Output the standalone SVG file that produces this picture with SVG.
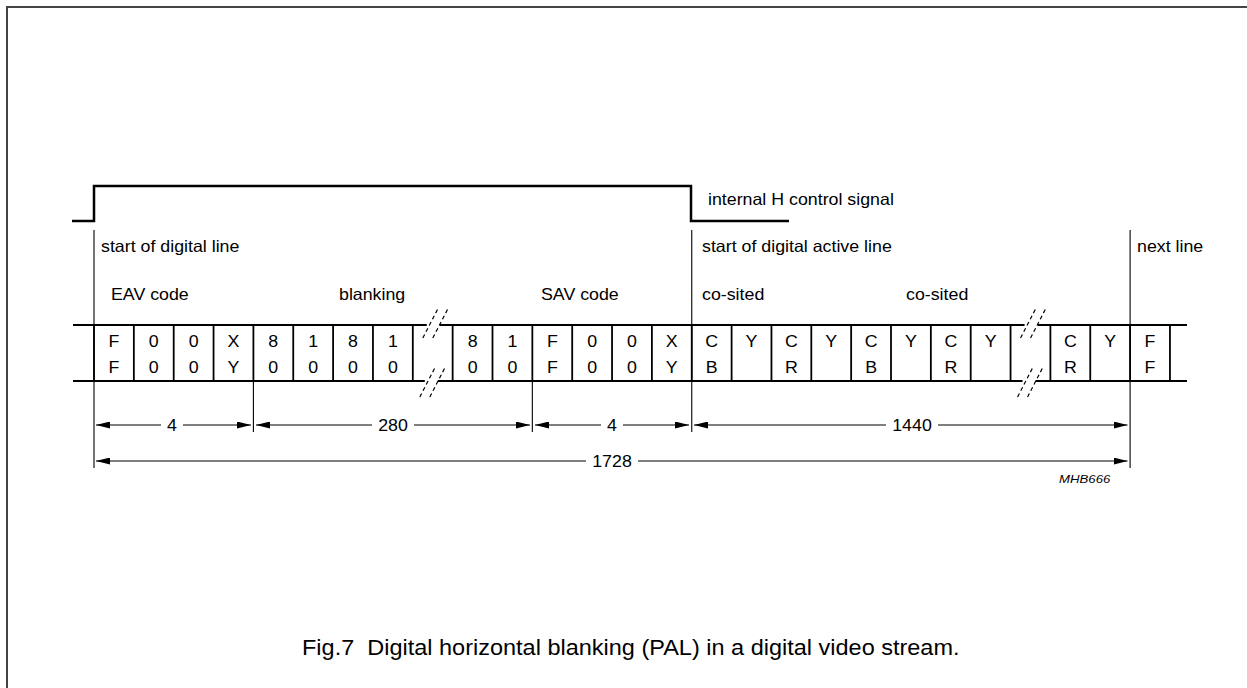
<svg xmlns="http://www.w3.org/2000/svg" width="1247" height="688" viewBox="0 0 1247 688">
<style>
text{font-family:"Liberation Sans",Arial,Helvetica,sans-serif;fill:#000}
.lbl{font-size:17.8px}
.cell{font-size:17.8px;text-anchor:middle}
.dim{font-size:17.8px;text-anchor:middle}
.cap{font-size:23.5px}
.code{font-size:13.2px;font-style:italic}
.wave{fill:none;stroke:#000;stroke-width:2.5}
.rowline{stroke:#000;stroke-width:2}
.div{stroke:#000;stroke-width:1.8}
.thin{stroke:#000;stroke-width:1.1}
.dimline{stroke:#000;stroke-width:1.1;fill:none}
.brk{stroke:#000;stroke-width:1.2;stroke-dasharray:4 3;fill:none}
.frame{fill:none;stroke:#444;stroke-width:2}
</style>
<defs>
<marker id="ah" viewBox="0 0 14 7" refX="14" refY="3.5" markerWidth="14" markerHeight="7" markerUnits="userSpaceOnUse" orient="auto-start-reverse">
<path d="M0,0 L14,3.5 L0,7 z" fill="#000"/>
</marker>
<g id="brkmark">
<rect x="14" y="321" width="13" height="8" fill="#fff"/>
<rect x="12" y="377" width="13" height="8" fill="#fff"/>
<line class="brk" x1="10" y1="338" x2="25" y2="309"/>
<line class="brk" x1="20" y1="338" x2="35" y2="309"/>
<line class="brk" x1="7" y1="397" x2="22" y2="368"/>
<line class="brk" x1="17" y1="397" x2="32" y2="368"/>
</g>
</defs>
<rect width="1247" height="688" fill="#fff"/>
<polyline class="frame" points="7,688 7,7 1247,7"/>

<g id="signal">
<polyline class="wave" points="72,221 94,221 94,186 691,186 691,221 789,221"/>
<text class="lbl" transform="translate(708 205) scale(1 .88)">internal H control signal</text>
</g>

<g id="labels">
<text class="lbl" transform="translate(101 252) scale(1 .88)">start of digital line</text>
<text class="lbl" transform="translate(702 252) scale(1 .88)">start of digital active line</text>
<text class="lbl" transform="translate(1137 252) scale(1 .88)">next line</text>
<text class="lbl" transform="translate(111 300) scale(1 .88)">EAV code</text>
<text class="lbl" transform="translate(339 300) scale(1 .88)">blanking</text>
<text class="lbl" transform="translate(541 300) scale(1 .88)">SAV code</text>
<text class="lbl" transform="translate(702 300) scale(1 .88)">co-sited</text>
<text class="lbl" transform="translate(906 300) scale(1 .88)">co-sited</text>
</g>

<g id="stream">
<line class="rowline" x1="73" y1="325" x2="1187" y2="325"/>
<line class="rowline" x1="73" y1="381" x2="1187" y2="381"/>
<g id="dividers">
<line class="div" x1="94" y1="325" x2="94" y2="381"/>
<line class="div" x1="133.85" y1="325" x2="133.85" y2="381"/>
<line class="div" x1="173.7" y1="325" x2="173.7" y2="381"/>
<line class="div" x1="213.55" y1="325" x2="213.55" y2="381"/>
<line class="div" x1="253.4" y1="325" x2="253.4" y2="381"/>
<line class="div" x1="293.25" y1="325" x2="293.25" y2="381"/>
<line class="div" x1="333.1" y1="325" x2="333.1" y2="381"/>
<line class="div" x1="372.95" y1="325" x2="372.95" y2="381"/>
<line class="div" x1="412.8" y1="325" x2="412.8" y2="381"/>
<line class="div" x1="452.65" y1="325" x2="452.65" y2="381"/>
<line class="div" x1="492.5" y1="325" x2="492.5" y2="381"/>
<line class="div" x1="532.35" y1="325" x2="532.35" y2="381"/>
<line class="div" x1="572.2" y1="325" x2="572.2" y2="381"/>
<line class="div" x1="612.05" y1="325" x2="612.05" y2="381"/>
<line class="div" x1="651.9" y1="325" x2="651.9" y2="381"/>
<line class="div" x1="691.75" y1="325" x2="691.75" y2="381"/>
<line class="div" x1="731.6" y1="325" x2="731.6" y2="381"/>
<line class="div" x1="771.45" y1="325" x2="771.45" y2="381"/>
<line class="div" x1="811.3" y1="325" x2="811.3" y2="381"/>
<line class="div" x1="851.15" y1="325" x2="851.15" y2="381"/>
<line class="div" x1="891" y1="325" x2="891" y2="381"/>
<line class="div" x1="930.85" y1="325" x2="930.85" y2="381"/>
<line class="div" x1="970.7" y1="325" x2="970.7" y2="381"/>
<line class="div" x1="1010.55" y1="325" x2="1010.55" y2="381"/>
<line class="div" x1="1050.4" y1="325" x2="1050.4" y2="381"/>
<line class="div" x1="1090.25" y1="325" x2="1090.25" y2="381"/>
<line class="div" x1="1130.1" y1="325" x2="1130.1" y2="381"/>
<line class="div" x1="1169.95" y1="325" x2="1169.95" y2="381"/>
</g>
<use href="#brkmark" transform="translate(412.8 0)"/>
<use href="#brkmark" transform="translate(1010.55 0)"/>
<g id="celltext">
<text class="cell" transform="translate(113.9 347) scale(1 .88)">F</text><text class="cell" transform="translate(113.9 372.5) scale(1 .88)">F</text>
<text class="cell" transform="translate(153.8 347) scale(1 .88)">0</text><text class="cell" transform="translate(153.8 372.5) scale(1 .88)">0</text>
<text class="cell" transform="translate(193.6 347) scale(1 .88)">0</text><text class="cell" transform="translate(193.6 372.5) scale(1 .88)">0</text>
<text class="cell" transform="translate(233.5 347) scale(1 .88)">X</text><text class="cell" transform="translate(233.5 372.5) scale(1 .88)">Y</text>
<text class="cell" transform="translate(273.3 347) scale(1 .88)">8</text><text class="cell" transform="translate(273.3 372.5) scale(1 .88)">0</text>
<text class="cell" transform="translate(313.2 347) scale(1 .88)">1</text><text class="cell" transform="translate(313.2 372.5) scale(1 .88)">0</text>
<text class="cell" transform="translate(353 347) scale(1 .88)">8</text><text class="cell" transform="translate(353 372.5) scale(1 .88)">0</text>
<text class="cell" transform="translate(392.9 347) scale(1 .88)">1</text><text class="cell" transform="translate(392.9 372.5) scale(1 .88)">0</text>
<text class="cell" transform="translate(472.6 347) scale(1 .88)">8</text><text class="cell" transform="translate(472.6 372.5) scale(1 .88)">0</text>
<text class="cell" transform="translate(512.4 347) scale(1 .88)">1</text><text class="cell" transform="translate(512.4 372.5) scale(1 .88)">0</text>
<text class="cell" transform="translate(552.3 347) scale(1 .88)">F</text><text class="cell" transform="translate(552.3 372.5) scale(1 .88)">F</text>
<text class="cell" transform="translate(592.1 347) scale(1 .88)">0</text><text class="cell" transform="translate(592.1 372.5) scale(1 .88)">0</text>
<text class="cell" transform="translate(632 347) scale(1 .88)">0</text><text class="cell" transform="translate(632 372.5) scale(1 .88)">0</text>
<text class="cell" transform="translate(671.8 347) scale(1 .88)">X</text><text class="cell" transform="translate(671.8 372.5) scale(1 .88)">Y</text>
<text class="cell" transform="translate(711.7 347) scale(1 .88)">C</text><text class="cell" transform="translate(711.7 372.5) scale(1 .88)">B</text>
<text class="cell" transform="translate(751.5 347) scale(1 .88)">Y</text>
<text class="cell" transform="translate(791.4 347) scale(1 .88)">C</text><text class="cell" transform="translate(791.4 372.5) scale(1 .88)">R</text>
<text class="cell" transform="translate(831.2 347) scale(1 .88)">Y</text>
<text class="cell" transform="translate(871.1 347) scale(1 .88)">C</text><text class="cell" transform="translate(871.1 372.5) scale(1 .88)">B</text>
<text class="cell" transform="translate(910.9 347) scale(1 .88)">Y</text>
<text class="cell" transform="translate(950.8 347) scale(1 .88)">C</text><text class="cell" transform="translate(950.8 372.5) scale(1 .88)">R</text>
<text class="cell" transform="translate(990.6 347) scale(1 .88)">Y</text>
<text class="cell" transform="translate(1070.3 347) scale(1 .88)">C</text><text class="cell" transform="translate(1070.3 372.5) scale(1 .88)">R</text>
<text class="cell" transform="translate(1110.2 347) scale(1 .88)">Y</text>
<text class="cell" transform="translate(1150 347) scale(1 .88)">F</text><text class="cell" transform="translate(1150 372.5) scale(1 .88)">F</text>
</g>
</g>

<g id="connectors">
<line class="thin" x1="94" y1="230" x2="94" y2="468"/>
<line class="thin" x1="691.75" y1="230" x2="691.75" y2="432"/>
<line class="thin" x1="1130.1" y1="230" x2="1130.1" y2="468"/>
<line class="thin" x1="253.4" y1="381" x2="253.4" y2="432"/>
<line class="thin" x1="532.35" y1="381" x2="532.35" y2="432"/>
<line class="dimline" x1="96" y1="425" x2="161" y2="425" marker-start="url(#ah)"/>
<line class="dimline" x1="183" y1="425" x2="251" y2="425" marker-end="url(#ah)"/>
<line class="dimline" x1="256" y1="425" x2="372" y2="425" marker-start="url(#ah)"/>
<line class="dimline" x1="414" y1="425" x2="530" y2="425" marker-end="url(#ah)"/>
<line class="dimline" x1="535" y1="425" x2="601" y2="425" marker-start="url(#ah)"/>
<line class="dimline" x1="623" y1="425" x2="689" y2="425" marker-end="url(#ah)"/>
<line class="dimline" x1="694" y1="425" x2="886" y2="425" marker-start="url(#ah)"/>
<line class="dimline" x1="938" y1="425" x2="1127.5" y2="425" marker-end="url(#ah)"/>
<line class="dimline" x1="96" y1="461" x2="586" y2="461" marker-start="url(#ah)"/>
<line class="dimline" x1="638" y1="461" x2="1127.5" y2="461" marker-end="url(#ah)"/>
</g>

<g id="dims">
<text class="dim" transform="translate(172 431) scale(1 .88)">4</text>
<text class="dim" transform="translate(393 431) scale(1 .88)">280</text>
<text class="dim" transform="translate(612 431) scale(1 .88)">4</text>
<text class="dim" transform="translate(912 431) scale(1 .88)">1440</text>
<text class="dim" transform="translate(612 467) scale(1 .88)">1728</text>
</g>

<text class="code" transform="translate(1059 483) scale(1 .88)">MHB666</text>
<text class="cap" transform="translate(302 655) scale(1 .9)">Fig.7&#160; Digital horizontal blanking (PAL) in a digital video stream.</text>
</svg>
